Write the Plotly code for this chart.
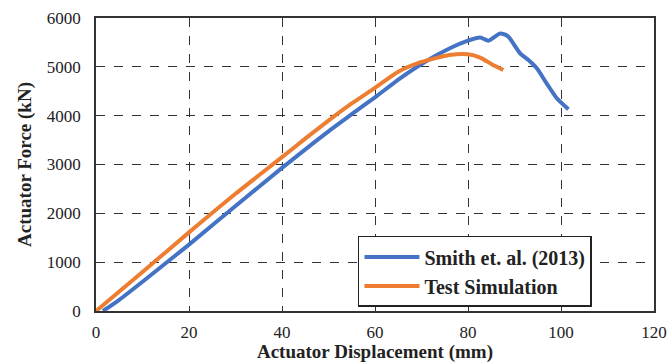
import plotly.graph_objects as go

smith_x = [1.5, 5, 10, 20, 30, 40, 50, 55, 60, 65.4, 70.8, 76.1, 80, 82.6, 84.4, 86.8, 87.6, 88.7, 91.2, 93, 94.8, 96.9, 99.1, 101.6]
smith_y = [0, 230, 600, 1360, 2150, 2930, 3680, 4030, 4376, 4765, 5105, 5380, 5535, 5600, 5535, 5680, 5672, 5618, 5277, 5140, 4970, 4663, 4356, 4130]

sim_x = [0, 10, 20, 30, 40, 45, 50, 55, 60, 65, 70, 76, 80, 82.6, 85.4, 87.6]
sim_y = [0, 800, 1610, 2400, 3150, 3530, 3900, 4250, 4570, 4900, 5100, 5243, 5257, 5190, 5038, 4935]

x_ticks = [0, 20, 40, 60, 80, 100, 120]
y_ticks = [0, 1000, 2000, 3000, 4000, 5000, 6000]

font_family = "Liberation Serif, Times New Roman, serif"
text_color = "#222222"

fig = go.Figure()
fig.add_trace(go.Scatter(x=smith_x, y=smith_y, mode="lines", name="<b>Smith et. al. (2013)</b>",
                         line=dict(color="#4472C4", width=4, shape="spline", smoothing=0.6)))
fig.add_trace(go.Scatter(x=sim_x, y=sim_y, mode="lines", name="<b>Test Simulation</b>",
                         line=dict(color="#ED7D31", width=4, shape="spline", smoothing=0.6)))

axis_common = dict(
    showline=True, mirror=True, linecolor="#333333", linewidth=1.5,
    showgrid=True, gridcolor="#333333", gridwidth=1.3, griddash="dash",
    zeroline=False, ticks="", automargin=False,
    tickfont=dict(family=font_family, size=17, color=text_color),
)

fig.update_xaxes(range=[0, 120], tickvals=x_ticks, ticklabelstandoff=5,
                 title=dict(text="<b>Actuator Displacement (mm)</b>",
                            font=dict(family=font_family, size=19, color=text_color), standoff=7),
                 **axis_common)
fig.update_yaxes(range=[0, 6000], tickvals=y_ticks, ticklabelstandoff=10,
                 title=dict(text="<b>Actuator Force (kN)</b>",
                            font=dict(family=font_family, size=19, color=text_color), standoff=10),
                 **axis_common)

fig.update_layout(
    width=670, height=363,
    margin=dict(l=96, r=16, t=18, b=52),
    paper_bgcolor="white", plot_bgcolor="white",
    showlegend=True,
    legend=dict(x=0.4695, y=0.256, xanchor="left", yanchor="top",
                bgcolor="white", bordercolor="#222222", borderwidth=1.5,
                font=dict(family=font_family, size=20, color=text_color),
                itemwidth=55, entrywidth=215, entrywidthmode="pixels"),
)

fig.write_html("out.html")
